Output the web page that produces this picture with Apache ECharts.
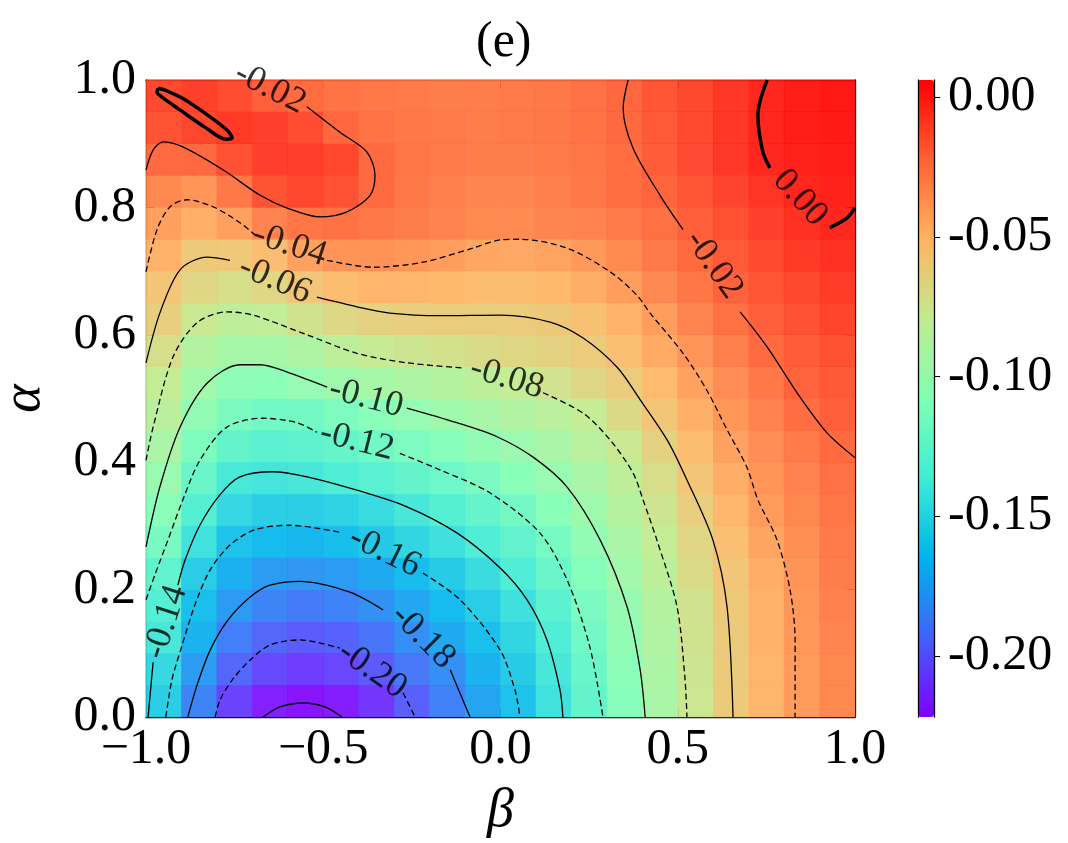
<!DOCTYPE html>
<html>
<head>
<meta charset="utf-8">
<script src="https://cdn.jsdelivr.net/npm/echarts@6/dist/echarts.min.js"></script>
<style>
html, body { margin: 0; padding: 0; background: #fff; }
#main { width: 1068px; height: 843px; }
</style>
</head>
<body>
<div id="main"></div>
<script>
// centres of the colour-map cells
const betaCenters = [-0.95, -0.85, -0.75, -0.65, -0.55, -0.45, -0.35, -0.25, -0.15, -0.05,
  0.05, 0.15, 0.25, 0.35, 0.45, 0.55, 0.65, 0.75, 0.85, 0.95];
const alphaCenters = [0.025, 0.075, 0.125, 0.175, 0.225, 0.275, 0.325, 0.375, 0.425, 0.475,
  0.525, 0.575, 0.625, 0.675, 0.725, 0.775, 0.825, 0.875, 0.925, 0.975];

// energy[j][i] : alpha = alphaCenters[j], beta = betaCenters[i]
const energy = [
  [-0.154, -0.185, -0.207, -0.218, -0.2215, -0.2186, -0.211, -0.198, -0.186, -0.173, -0.160, -0.143, -0.126, -0.109, -0.092, -0.076, -0.060, -0.049, -0.039, -0.032],
  [-0.148, -0.177, -0.196, -0.205, -0.209, -0.206, -0.200, -0.190, -0.181, -0.168, -0.155, -0.140, -0.123, -0.107, -0.091, -0.075, -0.060, -0.049, -0.039, -0.032],
  [-0.140, -0.168, -0.187, -0.196, -0.199, -0.197, -0.191, -0.181, -0.171, -0.162, -0.150, -0.136, -0.119, -0.104, -0.089, -0.074, -0.060, -0.048, -0.038, -0.031],
  [-0.134, -0.162, -0.177, -0.185, -0.188, -0.186, -0.180, -0.172, -0.164, -0.154, -0.144, -0.130, -0.115, -0.101, -0.087, -0.073, -0.059, -0.048, -0.0375, -0.0295],
  [-0.127, -0.154, -0.169, -0.176, -0.178, -0.1766, -0.171, -0.1635, -0.155, -0.146, -0.136, -0.123, -0.110, -0.096, -0.083, -0.069, -0.057, -0.046, -0.0365, -0.028],
  [-0.116, -0.143, -0.160, -0.164, -0.166, -0.163, -0.157, -0.150, -0.144, -0.136, -0.127, -0.117, -0.104, -0.092, -0.079, -0.066, -0.054, -0.043, -0.0345, -0.027],
  [-0.1075, -0.133, -0.148, -0.1535, -0.1536, -0.1513, -0.147, -0.140, -0.133, -0.1257, -0.118, -0.1077, -0.0976, -0.087, -0.075, -0.062, -0.050, -0.0394, -0.032, -0.025],
  [-0.100, -0.123, -0.139, -0.141, -0.140, -0.136, -0.131, -0.126, -0.121, -0.115, -0.108, -0.1006, -0.092, -0.083, -0.070, -0.057, -0.046, -0.037, -0.030, -0.0235],
  [-0.092, -0.1135, -0.126, -0.130, -0.1285, -0.125, -0.120, -0.114, -0.109, -0.104, -0.099, -0.092, -0.085, -0.0764, -0.0636, -0.0524, -0.0415, -0.034, -0.0274, -0.0208],
  [-0.0845, -0.104, -0.1145, -0.119, -0.118, -0.1135, -0.108, -0.102, -0.0975, -0.093, -0.0885, -0.084, -0.0785, -0.068, -0.057, -0.047, -0.0375, -0.030, -0.0225, -0.018],
  [-0.079, -0.096, -0.1045, -0.1065, -0.1015, -0.0974, -0.0938, -0.090, -0.0866, -0.083, -0.0788, -0.0726, -0.0667, -0.0607, -0.0515, -0.042, -0.0336, -0.0257, -0.019, -0.0156],
  [-0.0707, -0.0875, -0.094, -0.094, -0.090, -0.0828, -0.078, -0.075, -0.0722, -0.0693, -0.0665, -0.0636, -0.0607, -0.0537, -0.045, -0.0369, -0.029, -0.021, -0.0168, -0.0133],
  [-0.0624, -0.0764, -0.0815, -0.080, -0.073, -0.0674, -0.0638, -0.0621, -0.0612, -0.0614, -0.0606, -0.0587, -0.0544, -0.0484, -0.0402, -0.0311, -0.0231, -0.0175, -0.013, -0.0095],
  [-0.0568, -0.066, -0.0705, -0.066, -0.0573, -0.0522, -0.0493, -0.0494, -0.0505, -0.0521, -0.0523, -0.0505, -0.0463, -0.040, -0.0324, -0.0256, -0.019, -0.0145, -0.0105, -0.0065],
  [-0.048, -0.059, -0.0583, -0.0526, -0.0419, -0.0365, -0.0362, -0.0375, -0.040, -0.0431, -0.0441, -0.0423, -0.0385, -0.0327, -0.0267, -0.0208, -0.016, -0.011, -0.006, -0.003],
  [-0.041, -0.047, -0.041, -0.030, -0.025, -0.0238, -0.026, -0.028, -0.030, -0.033, -0.033, -0.031, -0.030, -0.027, -0.023, -0.0177, -0.0128, -0.0081, -0.0032, 0.000],
  [-0.032, -0.037, -0.026, -0.014, -0.010, -0.013, -0.021, -0.026, -0.029, -0.031, -0.031, -0.029, -0.026, -0.022, -0.0195, -0.0144, -0.0091, -0.004, 0.0005, 0.002],
  [-0.021, -0.0205, -0.013, -0.008, -0.007, -0.010, -0.021, -0.025, -0.027, -0.028, -0.028, -0.027, -0.025, -0.022, -0.017, -0.0113, -0.0056, 0.000, 0.002, 0.0035],
  [-0.014, -0.010, -0.006, -0.008, -0.012, -0.020, -0.024, -0.026, -0.027, -0.028, -0.027, -0.026, -0.024, -0.0205, -0.016, -0.011, -0.005, 0.0005, 0.003, 0.004],
  [-0.011, -0.008, -0.012, -0.018, -0.0215, -0.024, -0.026, -0.027, -0.028, -0.028, -0.027, -0.026, -0.0235, -0.020, -0.015, -0.0105, -0.005, 0.000, 0.003, 0.005]
];

// contour lines, [beta, alpha] points, null = gap left for the inline label
const c022 = [[-0.670, 0], [-0.622, 0.016], [-0.557, 0.022], [-0.495, 0.016], [-0.447, 0]];
const c020 = [[-0.805, 0], [-0.791, 0.027], [-0.757, 0.058], [-0.707, 0.089], [-0.650, 0.113], [-0.566, 0.121], [-0.453, 0.108], null, [-0.275, 0.038], [-0.241, 0]];
const c018 = [[-0.882, 0], [-0.856, 0.050], [-0.819, 0.105], [-0.769, 0.152], [-0.707, 0.188], [-0.650, 0.207], [-0.566, 0.213], [-0.425, 0.196], [-0.331, 0.168], null, [-0.142, 0.074], [-0.086, 0]];
const c016 = [[-0.944, 0], [-0.927, 0.058], [-0.898, 0.113], [-0.862, 0.176], [-0.819, 0.231], [-0.763, 0.270], [-0.693, 0.294], [-0.594, 0.301], [-0.453, 0.290], null, [-0.219, 0.226], [-0.114, 0.184], [-0.001, 0.105], [0.041, 0.042], [0.055, 0]];
const c014 = [[-0.994, 0], [-0.980, 0.086], null, [-0.910, 0.207], [-0.890, 0.246], [-0.848, 0.301], [-0.791, 0.349], [-0.735, 0.377], [-0.642, 0.385], [-0.546, 0.377], [-0.405, 0.356], [-0.264, 0.330], [-0.123, 0.289], [-0.001, 0.234], [0.075, 0.184], [0.131, 0.121], [0.168, 0.042], [0.176, 0]];
const c012 = [[-1, 0.184], [-0.975, 0.223], [-0.938, 0.278], [-0.896, 0.341], [-0.848, 0.403], [-0.772, 0.455], [-0.670, 0.469], [-0.574, 0.462], [-0.518, 0.447], null, [-0.284, 0.414], [-0.171, 0.388], [-0.030, 0.352], [0.111, 0.289], [0.188, 0.215], [0.252, 0.110], [0.289, 0]];
const c010 = [[-1, 0.267], [-0.961, 0.361], [-0.904, 0.455], [-0.828, 0.524], [-0.735, 0.553], [-0.678, 0.553], [-0.594, 0.540], [-0.489, 0.518], null, [-0.264, 0.485], [-0.123, 0.462], [-0.010, 0.440], [0.092, 0.408], [0.188, 0.361], [0.281, 0.278], [0.357, 0.173], [0.394, 0.074], [0.408, 0]];
const c008 = [[-1, 0.403], [-0.980, 0.455], [-0.924, 0.565], [-0.856, 0.619], [-0.772, 0.636], [-0.698, 0.631], [-0.546, 0.600], [-0.405, 0.571], [-0.264, 0.556], [-0.106, 0.548], null, [0.120, 0.509], [0.233, 0.477], [0.309, 0.435], [0.374, 0.383], [0.402, 0.341], [0.441, 0.278], [0.498, 0.173], [0.520, 0.063], [0.526, 0]];
const c006 = [[-1, 0.556], [-0.961, 0.634], [-0.904, 0.702], [-0.828, 0.722], [-0.763, 0.717], null, [-0.518, 0.659], [-0.405, 0.644], [-0.312, 0.634], [-0.171, 0.630], [-0.001, 0.631], [0.140, 0.620], [0.233, 0.595], [0.329, 0.549], [0.394, 0.498], [0.470, 0.435], [0.526, 0.372], [0.599, 0.278], [0.639, 0.173], [0.656, 0]];
const c004 = [[-1, 0.699], [-0.969, 0.765], [-0.932, 0.801], [-0.884, 0.812], [-0.811, 0.801], [-0.735, 0.776], [-0.687, 0.754], null, [-0.489, 0.717], [-0.360, 0.706], [-0.219, 0.714], [-0.078, 0.736], [-0.001, 0.749], [0.055, 0.750], [0.188, 0.736], [0.309, 0.699], [0.385, 0.662], [0.422, 0.634], [0.515, 0.571], [0.582, 0.513], [0.639, 0.451], [0.695, 0.392], [0.726, 0.341], [0.780, 0.278], [0.817, 0.199], [0.831, 0.121], [0.831, 0]];
const c002a = [[-1, 0.859], [-0.980, 0.890], [-0.952, 0.903], [-0.896, 0.895], [-0.783, 0.859], [-0.678, 0.819], [-0.602, 0.799], [-0.509, 0.785], [-0.433, 0.793], [-0.368, 0.819], [-0.354, 0.851], [-0.377, 0.887], [-0.453, 0.918], [-0.546, 0.958]];
const c002b = [[0.360, 1.0], [0.346, 0.956], [0.374, 0.893], [0.450, 0.819], [0.515, 0.765], null, [0.676, 0.636], [0.752, 0.581], [0.845, 0.502], [0.921, 0.446], [1.0, 0.407]];
const c000 = [[0.752, 1.0], [0.726, 0.945], [0.740, 0.887], [0.760, 0.862], null, [0.929, 0.768], [0.977, 0.783], [1.0, 0.799]];
const c000loop = [[-0.966, 0.987], [-0.946, 0.984], [-0.890, 0.969], [-0.819, 0.942], [-0.769, 0.920], [-0.757, 0.909], [-0.774, 0.907], [-0.834, 0.926], [-0.904, 0.953], [-0.952, 0.972], [-0.969, 0.981], [-0.966, 0.987]];

// inline contour labels
const clabelText = ['-0.02', '-0.02', '0.00', '-0.04', '-0.06', '-0.08', '-0.10', '-0.12', '-0.14', '-0.16', '-0.18', '-0.20'];
const clabelPos = [[-0.650, 0.987], [0.602, 0.710], [0.845, 0.815], [-0.594, 0.741], [-0.636, 0.686], [0.018, 0.532], [-0.379, 0.501], [-0.405, 0.433], [-0.944, 0.149], [-0.326, 0.259], [-0.219, 0.126], [-0.362, 0.074]];
const clabelRot = [-27, -55, -48, -18, -23, -17, -15, -14, 72, -26, -45, -35];

// colour bar
const cbarMin = -0.2218;
const cbarMax = 0.0061;
const cbarTicks = [-0.20, -0.15, -0.10, -0.05, 0.00];

const FONT = 'Liberation Serif';
// matplotlib "rainbow"
const rainbow = ['#8000ff', '#4062fa', '#00b4ec', '#40ecd4', '#80ffb4', '#bfec8e', '#ffb462', '#ff6232', '#ff0000'];

const heatData = [];
energy.forEach(function (row, j) {
  row.forEach(function (v, i) {
    heatData.push([i, j, v]);
  });
});

const contours = [
  { d: c022, dash: false, w: 1.3 },
  { d: c020, dash: true, w: 1.3 },
  { d: c018, dash: false, w: 1.3 },
  { d: c016, dash: true, w: 1.3 },
  { d: c014, dash: false, w: 1.3 },
  { d: c012, dash: true, w: 1.3 },
  { d: c010, dash: false, w: 1.3 },
  { d: c008, dash: true, w: 1.3 },
  { d: c006, dash: false, w: 1.3 },
  { d: c004, dash: true, w: 1.3 },
  { d: c002a, dash: false, w: 1.3 },
  { d: c002b, dash: false, w: 1.3 },
  { d: c000, dash: false, w: 3.5 },
  { d: c000loop, dash: false, w: 3.5 }
];

const lineSeries = contours.map(function (c) {
  return {
    type: 'line',
    xAxisIndex: 1,
    yAxisIndex: 1,
    data: c.d,
    showSymbol: false,
    smooth: 0.3,
    connectNulls: false,
    silent: true,
    z: 5,
    lineStyle: { color: '#000', width: c.w, type: c.dash ? [6, 3.5] : 'solid' }
  };
});

const labelSeries = {
  type: 'scatter',
  xAxisIndex: 1,
  yAxisIndex: 1,
  symbolSize: 0,
  silent: true,
  z: 6,
  data: clabelText.map(function (t, k) {
    return { name: t, value: clabelPos[k], label: { rotate: clabelRot[k] } };
  }),
  label: {
    show: true,
    position: 'inside',
    formatter: '{b}',
    fontFamily: FONT,
    fontSize: 36,
    color: '#000'
  }
};

const tickFont = { fontFamily: FONT, fontSize: 50, color: '#000' };
const frame = { show: true, onZero: false, lineStyle: { color: '#000', width: 1.3 } };
const inTick = { inside: true, length: 8, lineStyle: { color: '#000' } };

const chart = echarts.init(document.getElementById('main'));
chart.setOption({
  animation: false,
  textStyle: { fontFamily: FONT },
  title: {
    text: '(e)',
    left: 471,
    top: 13,
    textStyle: { fontFamily: FONT, fontSize: 50, fontWeight: 'normal', color: '#000' }
  },
  grid: [
    { left: 146, top: 80, width: 709, height: 637, containLabel: false, outerBoundsMode: 'none' },
    { left: 918, top: 80, width: 16, height: 637, containLabel: false, outerBoundsMode: 'none' }
  ],
  xAxis: [
    { type: 'category', gridIndex: 0, data: betaCenters, show: false, position: 'bottom' },
    {
      type: 'value', gridIndex: 0, min: -1, max: 1, interval: 0.5, position: 'bottom',
      axisLine: frame, axisTick: inTick, splitLine: { show: false },
      axisLabel: Object.assign({
        margin: 8,
        formatter: function (v) { return (v < 0 ? '\u2212' : '') + Math.abs(v).toFixed(1); }
      }, tickFont),
      name: '\u03b2', nameLocation: 'middle', nameGap: 68,
      nameTextStyle: { fontFamily: FONT, fontSize: 54, fontStyle: 'italic', color: '#000' }
    },
    {
      type: 'value', gridIndex: 0, min: -1, max: 1, interval: 0.5, position: 'top',
      axisLine: frame, axisTick: inTick, axisLabel: { show: false }, splitLine: { show: false }
    },
    { type: 'value', gridIndex: 1, min: 0, max: 1, show: false }
  ],
  yAxis: [
    { type: 'category', gridIndex: 0, data: alphaCenters, show: false, position: 'left' },
    {
      type: 'value', gridIndex: 0, min: 0, max: 1, interval: 0.2, position: 'left',
      axisLine: frame, axisTick: inTick, splitLine: { show: false },
      axisLabel: Object.assign({ margin: 10, formatter: function (v) { return v.toFixed(1); } }, tickFont),
      name: '\u03b1', nameLocation: 'middle', nameGap: 94, nameRotate: 90,
      nameTextStyle: { fontFamily: FONT, fontSize: 54, fontStyle: 'italic', color: '#000' }
    },
    {
      type: 'value', gridIndex: 0, min: 0, max: 1, interval: 0.2, position: 'right',
      axisLine: frame, axisTick: inTick, axisLabel: { show: false }, splitLine: { show: false }
    },
    {
      type: 'value', gridIndex: 1, min: cbarMin, max: cbarMax, position: 'right', z: 10,
      axisLine: frame,
      axisTick: { show: true, length: 6, customValues: cbarTicks, lineStyle: { color: '#000' } },
      splitLine: { show: false },
      axisLabel: Object.assign({
        margin: 14, customValues: cbarTicks,
        formatter: function (v) { return v.toFixed(2); }
      }, tickFont)
    },
    {
      type: 'value', gridIndex: 1, min: cbarMin, max: cbarMax, position: 'left', z: 10,
      axisLine: frame, axisTick: { show: false }, axisLabel: { show: false }, splitLine: { show: false }
    }
  ],
  visualMap: {
    type: 'continuous',
    seriesIndex: 0,
    min: cbarMin,
    max: cbarMax,
    calculable: false,
    orient: 'vertical',
    left: 918,
    top: 80,
    padding: 0,
    itemWidth: 16,
    itemHeight: 637,
    text: null,
    inRange: { color: rainbow }
  },
  series: [
    {
      type: 'heatmap',
      xAxisIndex: 0,
      yAxisIndex: 0,
      data: heatData,
      silent: true,
      itemStyle: { opacity: 0.92 }
    }
  ].concat(lineSeries, [labelSeries])
});
</script>
</body>
</html>
